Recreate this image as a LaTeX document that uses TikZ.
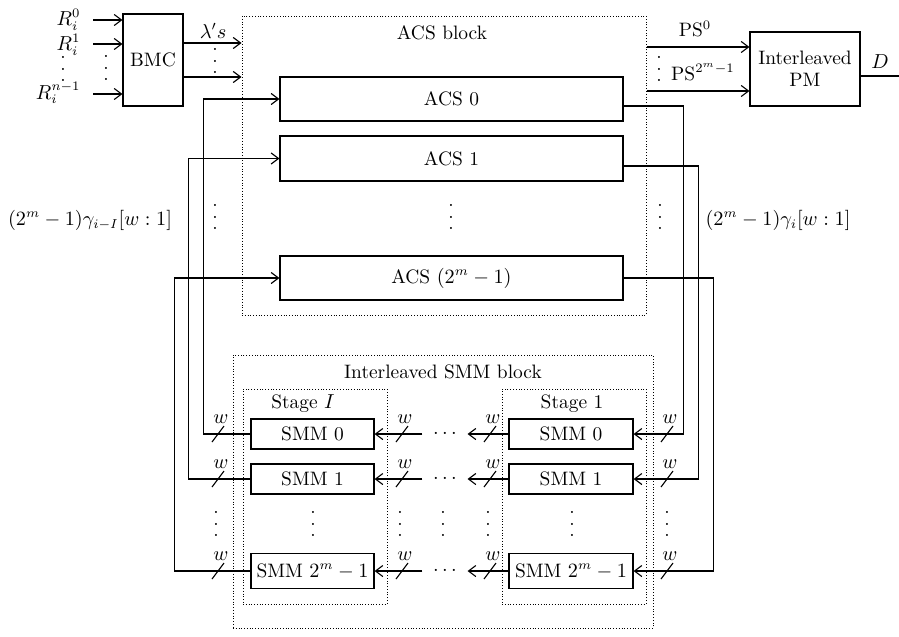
\documentclass[tikz,border=0pt]{standalone}
\usetikzlibrary{arrows.meta,positioning}

\newcommand{\vdotsx}{\vbox{\baselineskip6pt\lineskiplimit0pt\hbox{.}\hbox{.}\hbox{.}}}
\newcommand{\wbus}[3]{\draw (#1,#2) ++(-6,8) -- ++(12,-16); \path (#1,#2) ++(3,-15) node[inner sep=0.5pt] (#3) {$w$};}

\begin{document}
\begin{tikzpicture}[x=0.019cm,y=-0.019cm, line width=0.6pt,
    every node/.style={font=\fontsize{10.5}{12}\selectfont},
    blk/.style={draw, rectangle, inner sep=0pt},
    dotblk/.style={draw, densely dotted, line width=0.5pt, rectangle, inner sep=0pt},
    arr/.style={-{Straight Barb[length=4pt,width=6pt]}},
    lbl/.style={inner sep=0.5pt}]
    \useasboundingbox (0,0) rectangle (899,636);

    % ACS block
    \node[dotblk, minimum width=7.676cm, minimum height=5.681cm] (acsblk) at (444,165.5) {};
    \node (acslbl) at (442,33) {ACS block};
    \node[blk, minimum width=6.517cm, minimum height=0.836cm] (acs0) at (451.5,99) {ACS 0};
    \node[blk, minimum width=6.517cm, minimum height=0.855cm] (acs1) at (451.5,158.5) {ACS 1};
    \node[blk, minimum width=6.517cm, minimum height=0.836cm] (acsn) at (451.5,278) {ACS $(2^m-1)$};

    % BMC and PM
    \node[blk, minimum width=1.14cm, minimum height=1.748cm] (bmc) at (153,60) {BMC};
    \node[blk, align=center, minimum width=2.09cm, minimum height=1.406cm] (pm) at (805,69) {Interleaved\\PM};

    % SMM block
    \node[dotblk, minimum width=7.98cm, minimum height=5.187cm] (smmblk) at (443,491.5) {};
    \node (smmlbl) at (443,372) {Interleaved SMM block};
    \node[dotblk, minimum width=2.736cm, minimum height=4.085cm] (stgI) at (315,496.5) {};
    \node[dotblk, minimum width=2.736cm, minimum height=4.085cm] (stg1) at (574,496.5) {};
    \node[lbl] (stgIlbl) at (303,404) {Stage $I$};
    \node[lbl] (stg1lbl) at (572,404) {Stage 1};
    \node[blk, minimum width=2.337cm, minimum height=0.57cm] (sI0) at (312.5,434) {SMM 0};
    \node[blk, minimum width=2.337cm, minimum height=0.57cm] (sI1) at (312.5,479) {SMM 1};
    \node[blk, minimum width=2.337cm, minimum height=0.665cm] (sIn) at (312.5,571) {SMM $2^m-1$};
    \node[blk, minimum width=2.356cm, minimum height=0.57cm] (s10) at (571,434) {SMM 0};
    \node[blk, minimum width=2.356cm, minimum height=0.57cm] (s11) at (571,479) {SMM 1};
    \node[blk, minimum width=2.356cm, minimum height=0.665cm] (s1n) at (571,571) {SMM $2^m-1$};

    % inputs to BMC
    \node[lbl, anchor=east] (r0) at (82,20) {$R_i^0$};
    \node[lbl, anchor=east] (r1) at (82,45) {$R_i^1$};
    \node[lbl, anchor=east] (rn) at (82,93) {$R_i^{n-1}$};
    \node[lbl] (rdots) at (63,69) {\vdotsx};
    \node[lbl] (indots) at (106,68) {\vdotsx};
    \coordinate (ri0) at (93,20);
    \coordinate (ri1) at (93,44);
    \coordinate (rin) at (93,94);
    \draw[arr] (ri0) -- (ri0 -| bmc.west);
    \draw[arr] (ri1) -- (ri1 -| bmc.west);
    \draw[arr] (rin) -- (rin -| bmc.west);

    % BMC to ACS block
    \draw[arr] (bmc.east |- 0,43) -- (acsblk.west |- 0,43);
    \draw[arr] (bmc.east |- 0,77) -- (acsblk.west |- 0,77);
    \node[lbl] (lam) at (213,31) {$\lambda's$};
    \node[lbl] (lamdots) at (215,61) {\vdotsx};

    % ACS block to PM
    \draw[arr] (acsblk.east |- 0,47) -- (pm.west |- 0,47);
    \draw[arr] (acsblk.east |- 0,91) -- (pm.west |- 0,91);
    \node[lbl] (ps0) at (695,29) {PS$^0$};
    \node[lbl] (psn) at (703,72) {PS$^{2^m-1}$};
    \node[lbl] (psdots) at (659,69) {\vdotsx};
    \coordinate (dout) at (899,76);
    \draw (pm.east |- dout) -- (dout);
    \node[lbl] (dlbl) at (880,62) {$D$};

    % feedback into ACS
    \draw[arr] (sI0.west) -- ++(-47,0) |- (acs0.west);
    \draw[arr] (sI1.west) -- ++(-62,0) |- (acs1.west);
    \draw[arr] (sIn.west) -- ++(-76,0) |- (acsn.west);
    % ACS outputs to stage 1
    \draw[arr] (acs0.east |- 0,106) -- ++(60,0) |- (s10.east);
    \draw[arr] (acs1.east |- 0,166) -- ++(75,0) |- (s11.east);
    \draw[arr] (acsn.east) -- ++(90,0) |- (s1n.east);

    % between the stages
    \foreach \r/\yy in {0/434,1/479,n/571} {
        \node[minimum width=0.836cm, inner sep=0pt] (hd\r) at (445,\yy) {$\cdots$};
        \draw[arr] (s1\r.west) -- (hd\r.east);
        \draw[arr] (hd\r.west) -- (sI\r.east);
        \wbus{218}{\yy}{wl\r}
        \wbus{402}{\yy}{wm\r}
        \wbus{490}{\yy}{wn\r}
        \wbus{667}{\yy}{wr\r}
    }

    % dots
    \foreach \x [count=\i] in {216,313,400,443,488,572,667}
        \node[lbl] (vd\i) at (\x,524) {\vdotsx};
    \node[lbl] (ldots) at (215,217) {\vdotsx};
    \node[lbl] (cdots) at (451,217) {\vdotsx};
    \node[lbl] (rdotsb) at (660,217) {\vdotsx};

    % bus labels
    \node[lbl] (gamI) at (90,220) {$(2^m-1)\gamma_{i-I}[w:1]$};
    \node[lbl] (gam) at (778,220) {$(2^m-1)\gamma_i[w:1]$};
\end{tikzpicture}
\end{document}
